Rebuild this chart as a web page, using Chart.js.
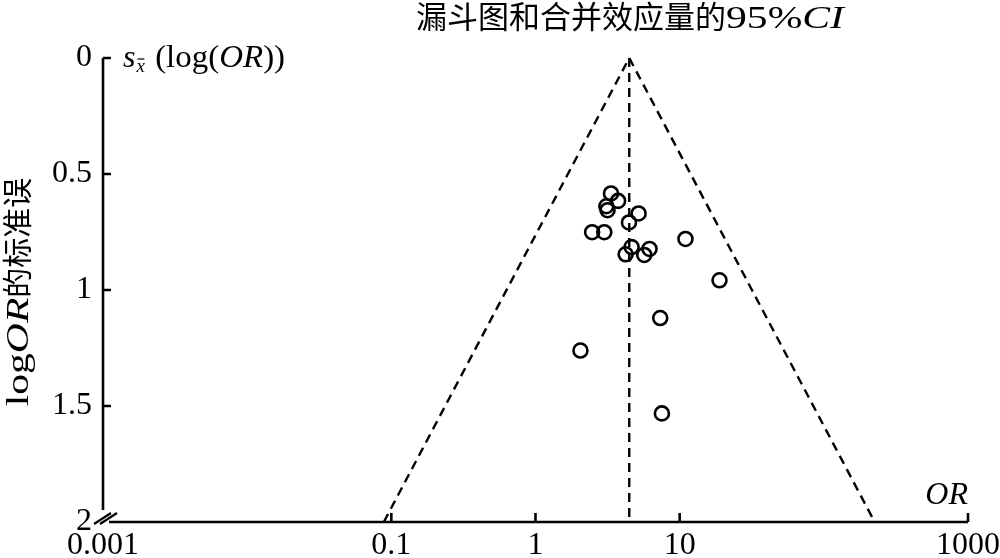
<!DOCTYPE html>
<html>
<head>
<meta charset="utf-8">
<script src="https://cdn.jsdelivr.net/npm/chart.js@4"></script>
<style>
  html, body { margin: 0; padding: 0; background: #fff; }
  #wrap { width: 1000px; height: 558px; }
</style>
</head>
<body>
<div id="wrap"><canvas id="funnel"></canvas></div>
<script>
// study estimates
const studyOR = [3.34, 3.74, 3.10, 3.16, 5.19, 4.45, 2.47, 3.00, 10.97, 4.64, 6.18, 4.22, 5.68, 18.9, 7.33, 2.05, 7.53];
const studySE = [0.584, 0.616, 0.639, 0.656, 0.670, 0.709, 0.751, 0.751, 0.780, 0.815, 0.823, 0.846, 0.849, 0.958, 1.121, 1.261, 1.532];

// pooled effect and funnel depth
const pooledOR = 4.47;
const seMax = 2;

const xTicks = [0.001, 0.1, 1, 10, 1000];
const yTicks = [0, 0.5, 1, 1.5, 2];

const serif = '"Liberation Serif", "Times New Roman", serif';
const cjk = '"Noto Sans CJK SC", sans-serif';

const points = studyOR.map((v, i) => ({ x: v, y: studySE[i] }));
const funnelEdge = [
  { x: pooledOR * Math.exp(-1.96 * seMax), y: seMax },
  { x: pooledOR, y: 0 },
  { x: pooledOR * Math.exp(1.96 * seMax), y: seMax }
];
const pooledLine = [{ x: pooledOR, y: 0 }, { x: pooledOR, y: seMax }];

// write a run of text pieces one after another (sx = horizontal stretch)
function drawRun(ctx, parts, x, y) {
  parts.forEach(p => {
    const sx = p.sx || 1;
    ctx.font = p.font;
    ctx.save();
    ctx.translate(x, y);
    ctx.scale(sx, 1);
    ctx.fillText(p.t, 0, 0);
    ctx.restore();
    x += ctx.measureText(p.t).width * sx;
  });
  return x;
}
function runWidth(ctx, parts) {
  let w = 0;
  parts.forEach(p => { ctx.font = p.font; w += ctx.measureText(p.t).width * (p.sx || 1); });
  return w;
}

const axesPlugin = {
  id: 'axesPlugin',
  afterDraw(chart) {
    const ctx = chart.ctx;
    const xs = chart.scales.x, ys = chart.scales.y;
    const x0 = xs.left, x1 = xs.right;
    const y0 = ys.top, y1 = ys.bottom;
    ctx.save();
    ctx.strokeStyle = '#000';
    ctx.fillStyle = '#000';
    ctx.lineWidth = 2.6;
    ctx.setLineDash([]);

    // axis lines with a break at the corner
    ctx.beginPath();
    ctx.moveTo(x0, y0);
    ctx.lineTo(x0, y1 - 12);
    ctx.moveTo(x0 + 6, y1);
    ctx.lineTo(x1, y1);
    ctx.stroke();

    // inward ticks
    ctx.beginPath();
    yTicks.slice(0, -1).forEach(v => {
      const py = ys.getPixelForValue(v);
      ctx.moveTo(x0, py);
      ctx.lineTo(x0 + 8, py);
    });
    xTicks.slice(1).forEach(v => {
      const px = xs.getPixelForValue(v);
      ctx.moveTo(px, y1);
      ctx.lineTo(px, y1 - 9);
    });
    ctx.stroke();

    // break marks
    ctx.lineWidth = 2.2;
    ctx.beginPath();
    ctx.moveTo(x0 - 9, y1 + 2);
    ctx.lineTo(x0 + 8, y1 - 9);
    ctx.moveTo(x0 - 3, y1 + 2);
    ctx.lineTo(x0 + 14, y1 - 9);
    ctx.stroke();

    // title
    ctx.textBaseline = 'alphabetic';
    const title = [
      { t: '漏斗图和合并效应量的', font: '31px ' + cjk },
      { t: '95%', font: '32px ' + serif, sx: 1.3 },
      { t: 'CI', font: 'italic 32px ' + serif, sx: 1.3 }
    ];
    const tw = runWidth(ctx, title);
    drawRun(ctx, title, 630 - tw / 2, 28);

    // y label at top of axis
    let ex = drawRun(ctx, [{ t: 's', font: 'italic 32px ' + serif }], x0 + 20, 67);
    ctx.font = 'italic 19px ' + serif;
    ctx.fillText('x', ex + 1, 72);
    const xw = ctx.measureText('x').width;
    ctx.lineWidth = 1.2;
    ctx.beginPath();
    ctx.moveTo(ex + 2, 59);
    ctx.lineTo(ex + xw + 0.5, 59);
    ctx.stroke();
    drawRun(ctx, [
      { t: ' (log(', font: '32px ' + serif, sx: 1.03 },
      { t: 'OR', font: 'italic 32px ' + serif, sx: 1.03 },
      { t: '))', font: '32px ' + serif, sx: 1.03 }
    ], ex + xw + 3, 67);

    // x label at right end
    ctx.font = 'italic 32px ' + serif;
    ctx.textAlign = 'right';
    ctx.fillText('OR', x1, 504);
    ctx.textAlign = 'left';

    // rotated y title
    const ytitle = [
      { t: 'log', font: '32px ' + serif, sx: 1.3 },
      { t: 'OR', font: 'italic 32px ' + serif, sx: 1.3 },
      { t: '的标准误', font: '30px ' + cjk }
    ];
    const yw = runWidth(ctx, ytitle);
    ctx.translate(28, 292);
    ctx.rotate(-Math.PI / 2);
    drawRun(ctx, ytitle, -yw / 2, 0);
    ctx.restore();
  }
};

new Chart(document.getElementById('funnel'), {
  type: 'scatter',
  data: {
    datasets: [
      {
        data: points,
        pointStyle: 'circle',
        pointRadius: 7,
        pointHoverRadius: 7,
        borderColor: '#000',
        backgroundColor: 'rgba(0,0,0,0)',
        borderWidth: 2.6,
        order: 0
      },
      {
        type: 'line',
        data: funnelEdge,
        borderColor: '#000',
        borderWidth: 2.4,
        borderDash: [9, 6],
        pointRadius: 0,
        fill: false,
        tension: 0,
        clip: false,
        order: 1
      },
      {
        type: 'line',
        data: pooledLine,
        borderColor: '#000',
        borderWidth: 2.4,
        borderDash: [9, 6],
        pointRadius: 0,
        fill: false,
        clip: false,
        order: 2
      }
    ]
  },
  options: {
    responsive: true,
    maintainAspectRatio: false,
    animation: false,
    layout: { padding: { left: 0, top: 58, right: 32, bottom: 0 } },
    plugins: { legend: { display: false }, tooltip: { enabled: false }, title: { display: false } },
    scales: {
      x: {
        type: 'logarithmic',
        min: 0.001,
        max: 1000,
        border: { display: false },
        grid: { display: false, drawTicks: false },
        afterBuildTicks: s => { s.ticks = xTicks.map(v => ({ value: v })); },
        afterFit: s => { s.height = 36; s.paddingLeft = 0; s.paddingRight = 0; },
        ticks: {
          color: '#000',
          font: { family: serif, size: 32 },
          padding: 4,
          maxRotation: 0,
          autoSkip: false,
          callback: v => String(v)
        }
      },
      y: {
        type: 'linear',
        reverse: true,
        min: 0,
        max: 2,
        border: { display: false },
        grid: { display: false, drawTicks: false },
        afterBuildTicks: s => { s.ticks = yTicks.map(v => ({ value: v })); },
        afterFit: s => { s.width = 103; s.paddingTop = 0; s.paddingBottom = 0; },
        ticks: {
          color: '#000',
          font: { family: serif, size: 32 },
          padding: 11,
          autoSkip: false,
          callback: v => String(v)
        }
      }
    }
  },
  plugins: [axesPlugin]
});
</script>
</body>
</html>
